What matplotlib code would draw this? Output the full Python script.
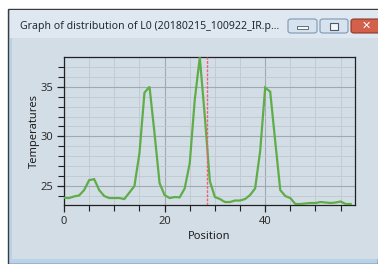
import matplotlib
matplotlib.use("Agg")
import matplotlib.pyplot as plt
from matplotlib.patches import Rectangle, FancyBboxPatch
from matplotlib.ticker import MultipleLocator

# ---- data ----
positions = list(range(58))
temperatures = [23.82, 23.80, 23.96, 24.06, 24.6, 25.6, 25.7, 24.6, 24.0, 23.8,
                23.8, 23.8, 23.7, 24.35, 25.0, 28.3, 34.4, 35.0, 30.3, 25.3,
                24.1, 23.8, 23.9, 23.87, 24.77, 27.3, 33.7, 37.96, 32.0, 25.5,
                23.9, 23.7, 23.4, 23.4, 23.55, 23.55, 23.7, 24.1, 24.77, 28.5,
                34.9, 34.5, 29.5, 24.6, 24.0, 23.8, 23.2, 23.2, 23.25, 23.3,
                23.3, 23.4, 23.35, 23.3, 23.35, 23.45, 23.2, 23.2]
marker_position = 28.4
title_text = "Graph of distribution of L0 (20180215_100922_IR.p..."
x_label = "Position"
y_label = "Temperatures"

W, H = 378, 264
fig = plt.figure(figsize=(W / 100, H / 100), dpi=100)
fig.patch.set_facecolor("white")

def fx(px):
    return px / W

def fy(py):
    return 1 - py / H

# window chrome
fig.patches.append(Rectangle((fx(8), fy(264)), fx(378 - 8), fy(9) - fy(264),
                             transform=fig.transFigure, facecolor="#b9d2ea",
                             edgecolor="#3c3c3c", linewidth=1.0, zorder=0))
fig.patches.append(Rectangle((fx(10), fy(38)), fx(378 - 10), fy(10) - fy(38),
                             transform=fig.transFigure, facecolor="#dfe8f1",
                             edgecolor="none", zorder=0.1))
fig.patches.append(Rectangle((fx(12), fy(259)), fx(378 - 12), fy(38) - fy(259),
                             transform=fig.transFigure, facecolor="#d3dde6",
                             edgecolor="none", zorder=0.1))
# buttons
for x0, x1, fc, ec in [(288, 317, "#d6e2ee", "#7f97b3"),
                       (320, 348, "#d6e2ee", "#7f97b3"),
                       (351, 390, "#d2604a", "#8a3a2c")]:
    fig.patches.append(FancyBboxPatch((fx(x0), fy(33)), fx(x1 - x0), fy(19) - fy(33),
                                      boxstyle="round,pad=0,rounding_size=0.008",
                                      transform=fig.transFigure, facecolor=fc,
                                      edgecolor=ec, linewidth=0.8, zorder=0.2))
fig.patches.append(Rectangle((fx(297), fy(28.5)), fx(11), fy(26) - fy(28.5),
                             transform=fig.transFigure, facecolor="#f4f6f8",
                             edgecolor="#4a5a6a", linewidth=0.6, zorder=0.3))
fig.patches.append(Rectangle((fx(330), fy(30)), fx(8), fy(23) - fy(30),
                             transform=fig.transFigure, facecolor="#f4f6f8",
                             edgecolor="#4a5a6a", linewidth=0.8, zorder=0.3))
fig.text(fx(366), fy(26), "✕", fontsize=8, fontweight="bold", color="white",
         ha="center", va="center", zorder=4)
fig.text(fx(20), fy(26.5), title_text, fontsize=7.6, family="Noto Sans",
         color="#1e2a38", ha="left", va="center", zorder=4)

# axes
ax = fig.add_axes([fx(64), fy(205), fx(354.7) - fx(64), fy(57.3) - fy(205)])
ax.set_zorder(5)
ax.set_facecolor("none")
ax.plot(positions, temperatures, color="#5fad48", linewidth=1.6, zorder=3,
        solid_joinstyle="miter")
ax.axvline(marker_position, color="#f0606e", linewidth=1.0, linestyle=(0, (2, 1)),
           zorder=4)
ax.set_xlim(0, 57.8)
ax.set_ylim(23.1, 37.96)
ax.xaxis.set_major_locator(MultipleLocator(20))
ax.xaxis.set_minor_locator(MultipleLocator(5))
ax.yaxis.set_major_locator(MultipleLocator(5))
ax.yaxis.set_minor_locator(MultipleLocator(1))
ax.grid(which="major", color="#a0a8b0", linewidth=0.8, zorder=1)
ax.grid(which="minor", color="#c2cbd4", linewidth=0.7, zorder=1)
ax.set_axisbelow(True)
for s in ax.spines.values():
    s.set_color("#202020")
    s.set_linewidth(0.9)
ax.tick_params(which="major", length=5, width=0.9, color="#202020",
               labelsize=8, labelcolor="#303030", pad=3)
ax.tick_params(which="minor", length=4, width=0.8, color="#202020")
for lab in ax.get_xticklabels() + ax.get_yticklabels():
    lab.set_family("Noto Sans")
ax.set_xlabel(x_label, fontsize=8, family="Noto Sans", color="#1e1e1e", labelpad=3)
ax.set_ylabel(y_label, fontsize=8, family="Noto Sans", color="#1e1e1e", labelpad=0.5)

fig.savefig("out.png", dpi=100, facecolor=fig.get_facecolor())
